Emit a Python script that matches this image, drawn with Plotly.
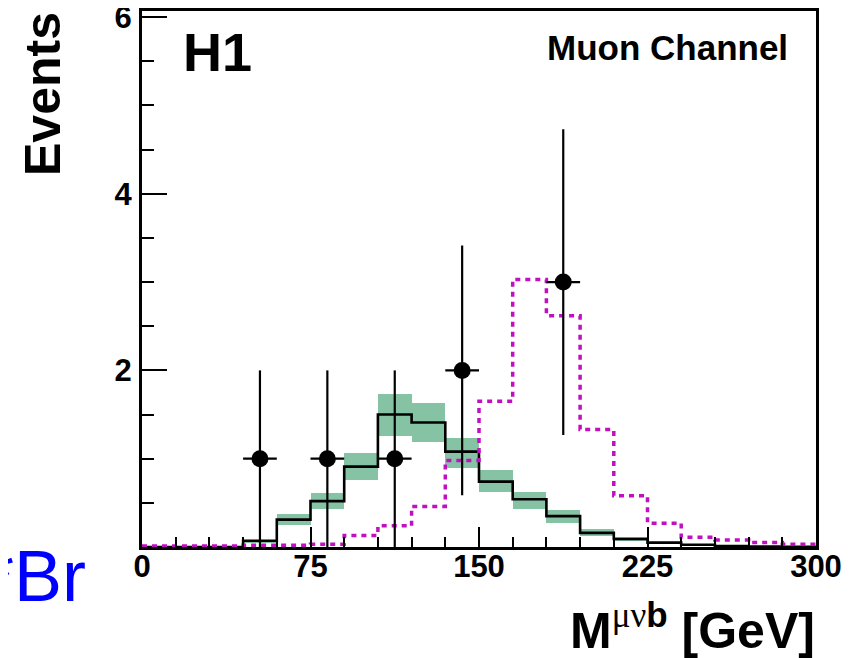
import numpy as np
import plotly.graph_objects as go

# ---- data ----
bin_edges = list(range(0, 301, 15))
bin_centers = [e + 7.5 for e in bin_edges[:-1]]

sm_values = [0.0, 0.0, 0.0, 0.07, 0.31, 0.52, 0.91, 1.50, 1.41, 1.08,
             0.74, 0.54, 0.35, 0.16, 0.09, 0.05, 0.025, 0.01, 0.006, 0.003]
band_low = [0.0, 0.0, 0.0, 0.05, 0.25, 0.43, 0.76, 1.26, 1.19, 0.90,
            0.62, 0.43, 0.27, 0.12, 0.07, 0.03, 0.015, 0.006, 0.003, 0.001]
band_high = [0.0, 0.0, 0.0, 0.08, 0.37, 0.61, 1.06, 1.73, 1.63, 1.23,
             0.87, 0.62, 0.42, 0.20, 0.11, 0.06, 0.035, 0.015, 0.009, 0.005]
signal_values = [0.01, 0.01, 0.01, 0.02, 0.02, 0.03, 0.13, 0.24, 0.46, 0.98,
                 1.65, 3.03, 2.62, 1.33, 0.58, 0.27, 0.11, 0.08, 0.05, 0.03]

data_x = [52.5, 82.5, 112.5, 142.5, 187.5]
data_y = [1, 1, 1, 2, 3]
data_xerr = [7.5, 7.5, 7.5, 7.5, 7.5]

x_ticks = [0, 75, 150, 225, 300]
y_ticks = [2, 4, 6]

FONT = "Liberation Sans"
GREEN = "#86c3a5"
MAGENTA = "#c010c0"

fig = go.Figure()

# uncertainty band
fig.add_trace(go.Bar(
    x=bin_centers,
    y=[h - l for h, l in zip(band_high, band_low)],
    base=band_low,
    width=15,
    marker=dict(color=GREEN, line=dict(width=0)),
    showlegend=False,
))

# SM expectation histogram
fig.add_trace(go.Scatter(
    x=bin_edges,
    y=sm_values + [sm_values[-1]],
    mode="lines",
    line=dict(color="black", width=2.6, shape="hv"),
    showlegend=False,
))

# signal histogram (dotted)
fig.add_trace(go.Scatter(
    x=bin_edges,
    y=signal_values + [signal_values[-1]],
    mode="lines",
    line=dict(color=MAGENTA, width=3.5, shape="hv", dash="5px,5px"),
    showlegend=False,
))

# data points
fig.add_trace(go.Scatter(
    x=data_x,
    y=data_y,
    mode="markers",
    marker=dict(color="black", size=17, symbol="circle"),
    error_x=dict(type="data", array=data_xerr, width=0, thickness=2.2, color="black"),
    error_y=dict(type="data", array=list(np.sqrt(data_y)), width=0, thickness=2.2, color="black"),
    showlegend=False,
))

W, H = 864, 658
OFF = 8  # page body margin offset
L, T = 142 - OFF, 11 - OFF
R = W - (816.5 - OFF)
B = H - (547.5 - OFF)

fig.update_layout(
    width=W, height=H,
    margin=dict(l=L, r=R, t=T, b=B, pad=0, autoexpand=False),
    paper_bgcolor="white",
    plot_bgcolor="white",
    bargap=0,
    font=dict(family=FONT, color="black"),
)

fig.update_xaxes(
    range=[0, 300],
    tickvals=x_ticks,
    ticktext=[str(v) for v in x_ticks],
    ticks="inside", ticklen=20, tickwidth=2, tickcolor="black",
    minor=dict(dtick=15, tick0=0, ticks="inside", ticklen=10, tickwidth=2, tickcolor="black"),
    showline=True, linewidth=3, linecolor="black", mirror=True,
    showgrid=False, zeroline=False, automargin=False,
    tickfont=dict(family=FONT, size=31, weight="bold", color="black"),
    ticklabelstandoff=-10,
    ticklabeloverflow="allow",
)
fig.update_yaxes(
    range=[0, 6.07],
    tickvals=y_ticks,
    ticktext=[str(v) for v in y_ticks],
    ticks="inside", ticklen=25, tickwidth=2, tickcolor="black",
    minor=dict(dtick=0.5, tick0=0, ticks="inside", ticklen=12, tickwidth=2, tickcolor="black"),
    showline=True, linewidth=3, linecolor="black", mirror=True,
    showgrid=False, zeroline=False, automargin=False,
    tickfont=dict(family=FONT, size=31, weight="bold", color="black"),
    ticklabelstandoff=1,
    ticklabeloverflow="allow",
)

pw = W - L - R
ph = H - T - B

def px(xs):
    return (xs - OFF - L) / pw

def py(ys):
    return (H - B - (ys - OFF)) / ph

anns = [
    dict(text="<b>H1</b>", x=px(218), y=py(52), font=dict(size=54)),
    dict(text="<b>Muon Channel</b>", x=px(668), y=py(48), font=dict(size=35)),
    dict(text="<b>Events</b>", x=px(43), y=py(94), font=dict(size=50), textangle=-90),
    dict(text="<b>M<sup><span style='font-family:Liberation Serif;font-weight:normal'>\u03bc\u03bd</span>b</sup> [GeV]</b>",
         x=px(818), y=py(628), xanchor="right", font=dict(size=50)),
    dict(text="*Br", x=px(88), y=py(577), xanchor="right", font=dict(size=72, color="#0000ff")),
]
for a in anns:
    a.setdefault("xanchor", "center")
    a.setdefault("yanchor", "middle")
    f = a["font"]
    f.setdefault("family", FONT)
    f.setdefault("color", "black")
    fig.add_annotation(xref="paper", yref="paper", showarrow=False, **a)

fig.write_html("out.html")
